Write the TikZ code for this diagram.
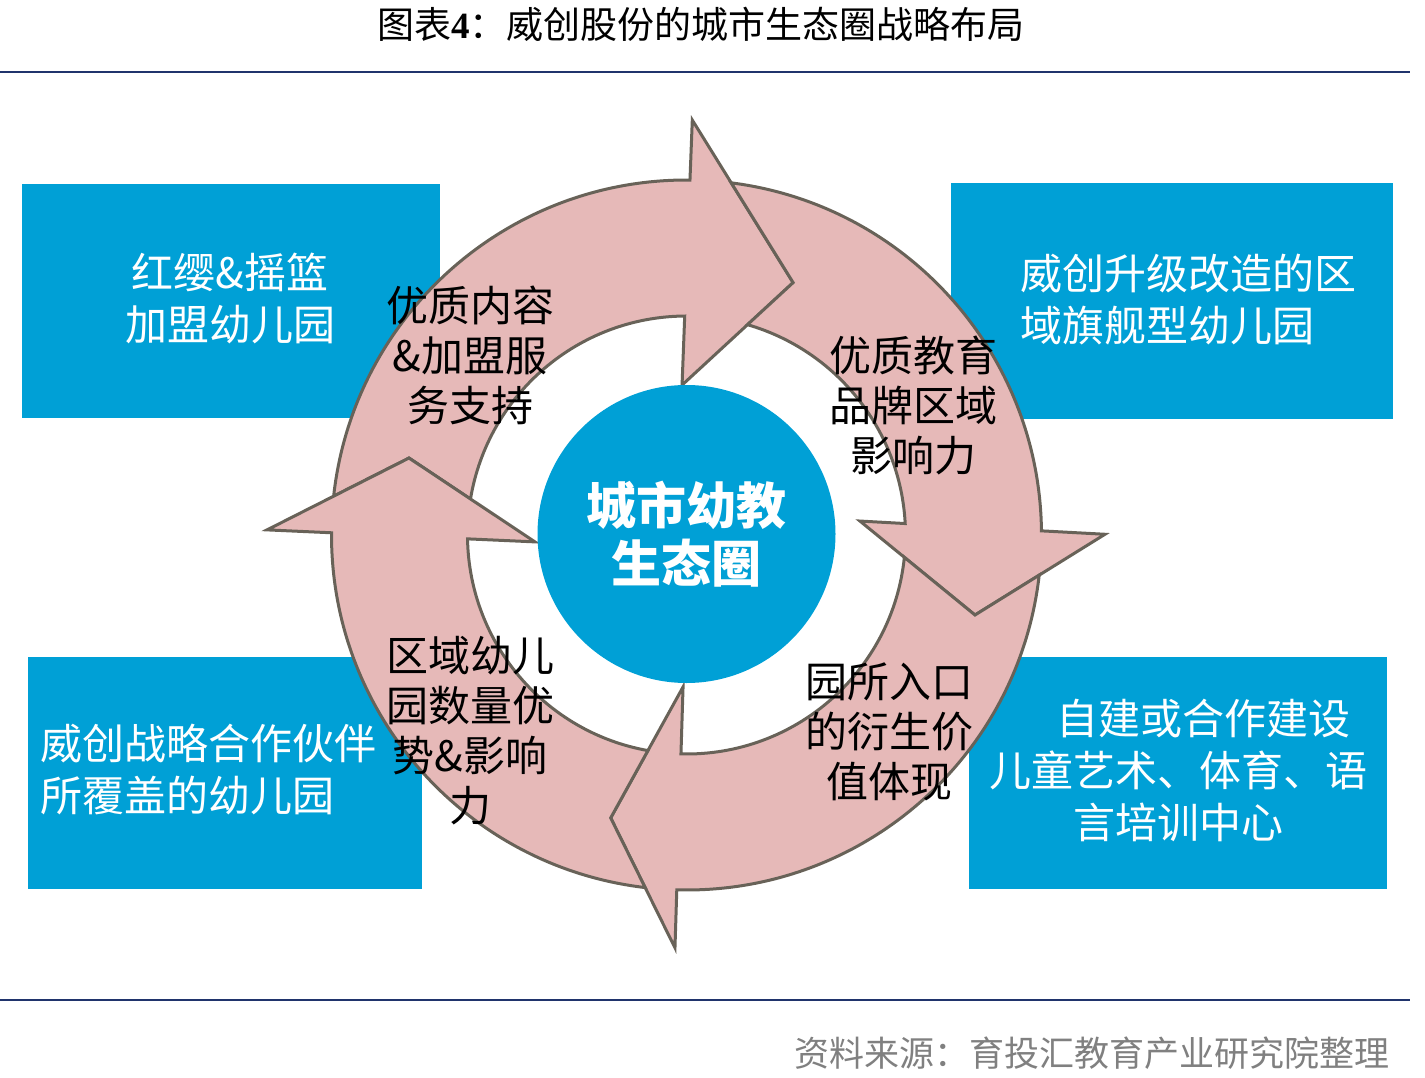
\documentclass[tikz,border=0pt]{standalone}
\usepackage{fontspec}
\setmainfont{Noto Sans CJK SC}
\newfontfamily\numfont{Liberation Serif}
\definecolor{BoxBlue}{RGB}{0,160,214}
\definecolor{RingPink}{RGB}{230,185,184}
\definecolor{RingEdge}{RGB}{104,98,88}
\definecolor{RuleNavy}{RGB}{32,52,108}
\definecolor{SrcGray}{RGB}{128,128,128}

\begin{document}
\begin{tikzpicture}[x=1pt,y=1pt,
                box/.style={fill=BoxBlue,inner sep=0pt},
                boxtxt/.style={text=white,font=\fontsize{42}{52}\selectfont,inner sep=0pt},
                ringtxt/.style={font=\fontsize{42}{50}\selectfont,align=center,inner sep=0pt},
                ringarrow/.style={fill=RingPink,draw=RingEdge,line width=3pt,line join=miter},
                hub/.style={circle,fill=BoxBlue,minimum size=298pt,inner sep=0pt,text=white,
                            font=\bfseries\fontsize{50}{58}\selectfont,align=center},
                rulebar/.style={RuleNavy,line width=2.5pt}
            ]
                \useasboundingbox (0,0) rectangle (1425,-1078);
                % Title and rules
                \node[font=\fontsize{37}{40}\selectfont,inner sep=0pt] (title) at (701,-24) {图表{\numfont\bfseries 4}：威创股份的城市生态圈战略布局};
                \coordinate (topL) at (0,-72);
                \coordinate (topR) at (1410,-72);
                \coordinate (botL) at (0,-1000);
                \coordinate (botR) at (1410,-1000);
                \draw[rulebar] (topL) -- (topR);
                \draw[rulebar] (botL) -- (botR);
                % --- Four blue boxes ---
                \node[box,minimum width=418pt,minimum height=234pt] (franchise) at (231,-301) {};
                \node[box,minimum width=442pt,minimum height=236pt] (flagship) at (1172,-301) {};
                \node[box,minimum width=394pt,minimum height=232pt] (partner) at (225,-773) {};
                \node[box,minimum width=418pt,minimum height=232pt] (centre) at (1178,-773) {};
                \node[boxtxt,align=center] (franchisetxt) at (230,-298) {红缨\&摇篮\\加盟幼儿园};
                \node[boxtxt,align=left,anchor=west] (flagshiptxt) at (1020,-300) {威创升级改造的区\\域旗舰型幼儿园};
                \node[boxtxt,align=left,anchor=west] (partnertxt) at (40,-770) {威创战略合作伙伴\\所覆盖的幼儿园};
                \node[boxtxt,align=center] (centretxt) at (1178,-770) {\hspace{50pt}自建或合作建设\\儿童艺术、体育、语\\言培训中心};
                % --- Ring of four arrows (clockwise) ---
                \begin{scope}[shift={(686.5,-535)}]
                    % left -> top
                    \draw[ringarrow] (173.72:355pt) arc[start angle=173.72,end angle=89.44,radius=355pt]
                        -- (89.2:415pt) -- (67.1:274pt) -- (91.7:150pt) -- (90.47:219pt)
                        arc[start angle=90.47,end angle=170.53,radius=219pt] -- (164.5:288pt) -- cycle;
                    % top -> right
                    \draw[ringarrow] (82.76:355pt) arc[start angle=82.76,end angle=0.67,radius=355pt]
                        -- (0.1:418.5pt) -- (-15.5:299.4pt) -- (4.6:174pt) -- (3.0:219pt)
                        arc[start angle=3.0,end angle=73.83,radius=219pt] -- (67.1:274pt) -- cycle;
                    % right -> bottom
                    \draw[ringarrow] (-6.49:355pt) arc[start angle=-6.49,end angle=-91.57,radius=355pt]
                        -- (-91.6:413pt) -- (-105:292.9pt) -- (-91.3:152pt) -- (-91.45:219pt)
                        arc[start angle=-91.45,end angle=-5.85,radius=219pt] -- (-15.5:299.4pt) -- cycle;
                    % bottom -> left
                    \draw[ringarrow] (-96.69:355pt) arc[start angle=-96.69,end angle=-180.36,radius=355pt]
                        -- (-180.7:419.5pt) -- (164.5:288pt) -- (-177.4:151.7pt) -- (-178.99:219pt)
                        arc[start angle=-178.99,end angle=-100.15,radius=219pt] -- (-105:292.9pt) -- cycle;
                \end{scope}
                % Hub
                \node[hub] (hub) at (686.5,-534) {城市幼教\\生态圈};
                % Labels on the ring
                \node[ringtxt] (content) at (470,-355) {优质内容\\\&加盟服\\务支持};
                \node[ringtxt] (brand) at (913,-405) {优质教育\\品牌区域\\影响力};
                \node[ringtxt] (value) at (889,-732) {园所入口\\的衍生价\\值体现};
                \node[ringtxt] (scale) at (470,-731) {区域幼儿\\园数量优\\势\&影响\\力};
                % Source
                \node[font=\fontsize{35}{40}\selectfont,text=SrcGray,anchor=east,inner sep=0pt] (source) at (1390,-1053) {资料来源：育投汇教育产业研究院整理};
            \end{tikzpicture}
\end{document}
